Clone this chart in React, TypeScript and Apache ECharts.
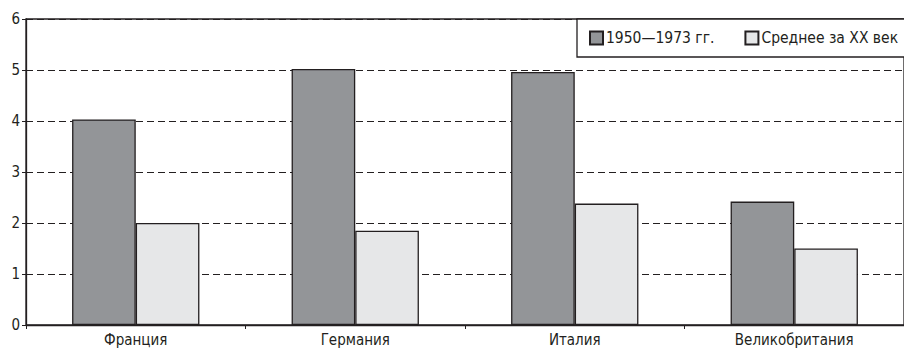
import React, { useEffect, useRef } from "react";
import * as echarts from "echarts";

const countries = ["Франция", "Германия", "Италия", "Великобритания"];
const period1950to1973 = [4.03, 5.02, 4.96, 2.42];
const centuryAverage = [2.0, 1.85, 2.38, 1.5];
const seriesNames = ["1950—1973 гг.", "Среднее за XX век"];

const FONT = '"Liberation Sans Narrow", "DejaVu Sans Condensed", "Roboto", sans-serif';
const INK = "#231f20";

export default function App() {
  const ref = useRef<HTMLDivElement>(null);

  useEffect(() => {
    if (!ref.current) return;
    const chart = echarts.init(ref.current, null, { renderer: "svg" });
    chart.setOption({
      animation: false,
      backgroundColor: "#ffffff",
      textStyle: { fontFamily: FONT, color: INK },
      grid: {
        left: 26,
        top: 19,
        bottom: 26,
        right: -7,
        show: true,
        borderColor: INK,
        borderWidth: 1.3,
        backgroundColor: "transparent",
      },
      legend: {
        orient: "horizontal",
        left: 577,
        top: 19,
        width: 400,
        padding: [11, 24, 11, 12],
        borderColor: INK,
        borderWidth: 1.3,
        backgroundColor: "#ffffff",
        itemWidth: 13,
        itemHeight: 13,
        itemGap: 30,
        icon: "rect",
        textStyle: { fontFamily: FONT, fontSize: 15.5, color: INK, padding: [0, 0, 0, -2] },
        data: seriesNames,
        z: 10,
      },
      xAxis: {
        type: "category",
        data: countries,
        axisLine: { lineStyle: { color: INK, width: 1.3 } },
        axisTick: { show: true, length: 4, lineStyle: { color: INK } },
        axisLabel: { fontFamily: FONT, fontSize: 15, color: INK, margin: 7 },
      },
      yAxis: {
        type: "value",
        min: 0,
        max: 6,
        interval: 1,
        axisLine: { show: true, lineStyle: { color: INK, width: 1.3 } },
        axisTick: { show: true, length: 4, lineStyle: { color: INK } },
        axisLabel: { fontFamily: FONT, fontSize: 15, color: INK, margin: 6 },
        splitLine: { show: true, lineStyle: { color: INK, type: [7, 4], width: 1 } },
      },
      series: [
        {
          name: seriesNames[0],
          type: "bar",
          data: period1950to1973,
          barWidth: "29%",
          barGap: "0%",
          itemStyle: { color: "#939598", borderColor: INK, borderWidth: 1.3 },
        },
        {
          name: seriesNames[1],
          type: "bar",
          data: centuryAverage,
          barWidth: "29%",
          itemStyle: { color: "#e6e7e8", borderColor: INK, borderWidth: 1.3 },
        },
      ],
    });
    return () => chart.dispose();
  }, []);

  return (
    <div
      ref={ref}
      style={{ position: "fixed", left: 0, top: 0, width: 904, height: 351 }}
    />
  );
}
